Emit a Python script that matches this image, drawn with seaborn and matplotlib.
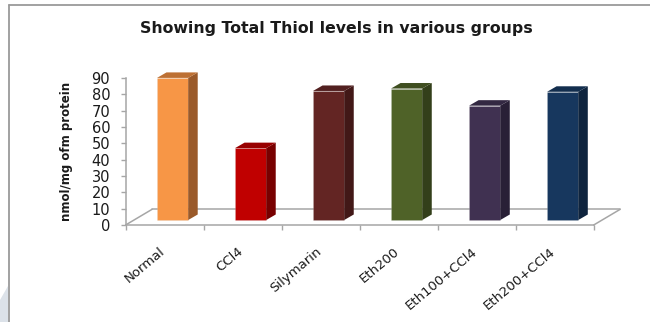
import numpy as np
import pandas as pd
import matplotlib
matplotlib.use("Agg")
import matplotlib.pyplot as plt
from matplotlib.patches import Polygon
from matplotlib.lines import Line2D
from matplotlib.transforms import ScaledTranslation, IdentityTransform
import seaborn as sns

# Total thiol levels per treatment group (nmol/mg of protein)
groups = ["Normal", "CCl4", "Silymarin", "Eth200", "Eth100+CCl4", "Eth200+CCl4"]
thiol = [87, 44, 79, 80.5, 70, 78.5]
y_ticks = [0, 10, 20, 30, 40, 50, 60, 70, 80, 90]

front_colors = ["#F79646", "#C00000", "#632523", "#4F6228", "#403151", "#17375E"]
side_colors = ["#9A5A2A", "#780000", "#421817", "#333F1A", "#292036", "#0F243E"]
top_colors = ["#BD7033", "#980000", "#522020", "#3F4E20", "#332842", "#132E4E"]

sns.set_theme(style="white")
plt.rcParams["font.family"] = ["DejaVu Sans"]

DPI = 100
W, H = 650, 322
fig = plt.figure(figsize=(W / DPI, H / DPI), dpi=DPI)
fig.patch.set_facecolor("white")

# axes box in pixel units: left edge of value axis, floor front line, top tick
x_left, x_right = 125.6, 593.7
y_zero, y_top = 225.0, 78.0
ax = fig.add_axes([x_left / W, (H - y_zero) / H, (x_right - x_left) / W, (y_zero - y_top) / H])
ax.set_facecolor("none")

df = pd.DataFrame({"group": groups, "thiol": thiol})
sns.barplot(data=df, x="group", y="thiol", hue="group", palette=front_colors,
            width=0.4, saturation=1, legend=False, ax=ax, zorder=3)

n = len(groups)
ax.set_xlim(-0.5, n - 0.5)
ax.set_ylim(0, 90)

px = lambda p: p / DPI  # pixels -> inches
bar_shift = ScaledTranslation(px(8), px(5), fig.dpi_scale_trans)

gray = "#A6A6A6"
depth_dx, depth_dy = 9.5, 5.5   # bar depth in pixels
floor_dx, floor_dy = 26.5, 15.7  # floor depth in pixels

# 3-D faces built from the bars that seaborn drew
for i, patch in enumerate(ax.patches[:n]):
    patch.set_transform(ax.transData + bar_shift)
    patch.set_edgecolor((0.85, 0.85, 0.85, 0.25))
    patch.set_linewidth(0.5)
    x0, x1 = patch.get_x(), patch.get_x() + patch.get_width()
    h = patch.get_height()
    (dx0, dyb), (dx1, dyt) = ax.transData.transform([(x0, 0), (x1, h)])
    dx0 += 8; dx1 += 8; dyb += 5; dyt += 5
    side = Polygon([(dx1, dyb), (dx1, dyt), (dx1 + depth_dx, dyt + depth_dy),
                    (dx1 + depth_dx, dyb + depth_dy)],
                   closed=True, facecolor=side_colors[i], edgecolor="none",
                   transform=IdentityTransform(), zorder=3, clip_on=False)
    top = Polygon([(dx0, dyt), (dx1, dyt), (dx1 + depth_dx, dyt + depth_dy),
                   (dx0 + depth_dx, dyt + depth_dy)],
                  closed=True, facecolor=top_colors[i], edgecolor="none",
                  transform=IdentityTransform(), zorder=3, clip_on=False)
    ax.add_artist(side)
    ax.add_artist(top)

# floor: back edge and the two receding edges
(fx0, fy0), (fx1, _) = ax.transData.transform([(-0.5, 0), (n - 0.5, 0)])
for xs, ys in [
    ([fx0 + floor_dx, fx1 + floor_dx], [fy0 + floor_dy, fy0 + floor_dy]),
    ([fx0, fx0 + floor_dx], [fy0, fy0 + floor_dy]),
    ([fx1, fx1 + floor_dx], [fy0, fy0 + floor_dy]),
]:
    ax.add_artist(Line2D(xs, ys, color=gray, lw=1.1, transform=IdentityTransform(),
                         zorder=1, clip_on=False))

# spines and ticks
sns.despine(ax=ax, top=True, right=True)
for s in ("left", "bottom"):
    ax.spines[s].set_color(gray)
    ax.spines[s].set_linewidth(1.1)

ax.set_yticks(y_ticks)
ax.tick_params(axis="y", which="major", direction="out", length=3.6, width=1.0,
               color=gray, labelsize=10.5, labelcolor="#1a1a1a", pad=7.5, left=True)

ax.set_xticks(np.arange(-0.5, n, 1.0), minor=True)
ax.set_xticks(np.arange(n), groups)
ax.tick_params(axis="x", which="minor", direction="out", length=3.6, width=1.0,
               color=gray, bottom=True)
ax.tick_params(axis="x", which="major", length=0, pad=18, labelsize=9.5,
               labelcolor="#1a1a1a")
label_shift = ScaledTranslation(px(-1), 0, fig.dpi_scale_trans)
for lab in ax.get_xticklabels():
    lab.set_rotation(40)
    lab.set_ha("right")
    lab.set_va("center")
    lab.set_rotation_mode("anchor")
    lab.set_transform(lab.get_transform() + label_shift)

ax.set_xlabel("")
ax.set_ylabel("nmol/mg ofm protein", fontsize=8.5, fontweight="bold", color="#1a1a1a")
ax.yaxis.label.set_va("center")
ax.yaxis.set_label_coords(-0.126, 0.503)

fig.text(336 / W, 1 - 29 / H, "Showing Total Thiol levels in various groups",
         ha="center", va="center", fontsize=11.3, fontweight="bold", color="#1a1a1a")

# slide frame lines and background corner
fig.add_artist(Line2D([9 / W, 1.0], [1 - 5 / H, 1 - 5 / H], color="#9A9A9A", lw=1.3,
                      transform=fig.transFigure))
fig.add_artist(Line2D([9 / W, 9 / W], [0.0, 1 - 5 / H], color="#9A9A9A", lw=1.3,
                      transform=fig.transFigure))
fig.add_artist(Polygon([(0, 0), (0, 22 / H), (8 / W, 36 / H), (8 / W, 0)], closed=True,
                       facecolor="#DCE2E9", edgecolor="none", transform=fig.transFigure))

fig.savefig("out.png", dpi=DPI)
